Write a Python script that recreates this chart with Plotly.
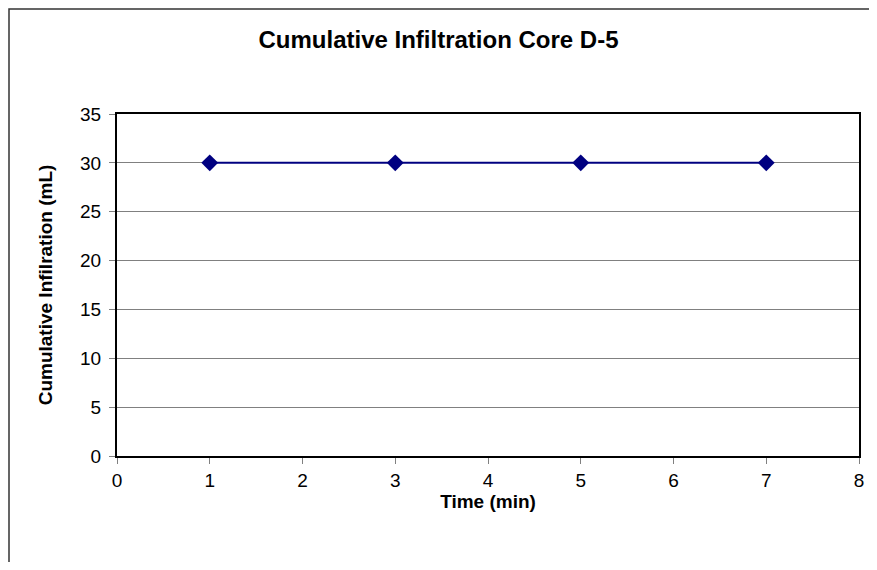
import plotly.graph_objects as go

TITLE = "Cumulative Infiltration Core D-5"
X_TITLE = "Time (min)"
Y_TITLE = "Cumulative Infilration (mL)"

time_min = [1, 3, 5, 7]
infiltration_ml = [30, 30, 30, 30]

FONT = "Liberation Sans, Arial, sans-serif"
NAVY = "#000080"

# the page body has an 8px margin, so the figure is a bit smaller than the window
W, H = 861, 554
L, R, T, B = 109, 10, 106, 106
PLOT_W = W - L - R
PLOT_H = H - T - B

fig = go.Figure()
fig.add_trace(
    go.Scatter(
        x=time_min,
        y=infiltration_ml,
        mode="lines+markers",
        line={"color": NAVY, "width": 2},
        marker={"symbol": "diamond", "size": 13, "color": NAVY},
        showlegend=False,
    )
)

axis_common = dict(
    showline=True,
    linecolor="black",
    linewidth=2,
    mirror=True,
    ticks="outside",
    ticklen=6,
    tickcolor="#808080",
    tickwidth=1,
    tickfont={"family": FONT, "size": 19, "color": "black"},
    zeroline=False,
    automargin=False,
)

fig.update_xaxes(
    range=[0, 8],
    dtick=1,
    showgrid=False,
    title={"text": "<b>" + X_TITLE + "</b>", "font": {"family": FONT, "size": 19, "color": "black"}, "standoff": 1},
    **axis_common
)
fig.update_yaxes(
    range=[0, 35],
    dtick=5,
    showgrid=True,
    gridcolor="#808080",
    gridwidth=1,
    ticklabelstandoff=4,
    title={"text": "<b>" + Y_TITLE + "</b>", "font": {"family": FONT, "size": 19, "color": "black"}, "standoff": 22},
    **axis_common
)

# outer chart frame (runs off the right and bottom edges)
fig.add_shape(
    type="rect", xref="paper", yref="paper",
    x0=(1 - L) / PLOT_W, x1=1.2,
    y0=-0.5, y1=(PLOT_H + T - 1) / PLOT_H,
    line={"color": "#333333", "width": 1.5},
    fillcolor="rgba(0,0,0,0)",
    layer="below",
)

fig.update_layout(
    width=W,
    height=H,
    margin={"l": L, "r": R, "t": T, "b": B, "pad": 0},
    paper_bgcolor="white",
    plot_bgcolor="white",
    title={
        "text": "<b>" + TITLE + "</b>",
        "font": {"family": FONT, "size": 24, "color": "black"},
        "x": 0.5,
        "xanchor": "center",
        "y": 1 - 32 / H,
        "yanchor": "middle",
    },
)

fig.write_html("out.html")
